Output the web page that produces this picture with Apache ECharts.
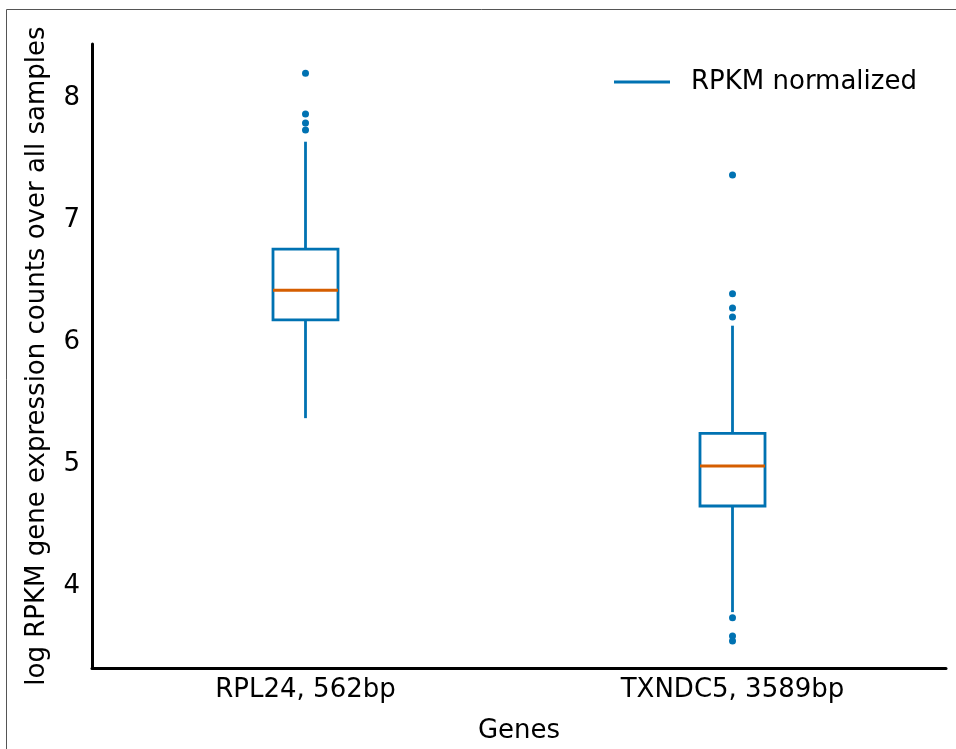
<!DOCTYPE html>
<html>
<head>
<meta charset="utf-8">
<script src="https://cdn.jsdelivr.net/npm/echarts@6/dist/echarts.min.js"></script>
<style>
  html, body { margin: 0; padding: 0; background: #fff; }
  #main { width: 956px; height: 749px; }
</style>
</head>
<body>
<div id="main"></div>
<script>
// genes on the x axis
var genes = ["RPL24, 562bp", "TXNDC5, 3589bp"];
// box stats per gene: [low whisker, Q1, median, Q3, high whisker]
var boxStats = [
  [5.38, 6.186, 6.428, 6.766, 7.646],
  [3.79, 4.66, 4.988, 5.256, 6.138]
];
// outliers: [gene index, value]
var outliers = [
  [0, 8.207], [0, 7.873], [0, 7.799], [0, 7.742],
  [1, 7.373], [1, 6.40], [1, 6.283], [1, 6.209],
  [1, 3.744], [1, 3.594], [1, 3.553]
];
var yMin = 3.332, yMax = 8.447;

var blue = "#0072B2";
var orange = "#D55E00";
var font = "DejaVu Sans";

var myChart = echarts.init(document.getElementById("main"));

// box data for the custom series
var boxData = boxStats.map(function (s, i) {
  return [i].concat(s);
});

myChart.setOption({
  animation: false,
  backgroundColor: "#fff",
  grid: { left: 92, right: 10, top: 44, bottom: 81 },
  legend: {
    left: 609,
    top: 64,
    itemWidth: 56,
    itemHeight: 3,
    data: [{ name: "RPKM normalized", icon: "rect" }],
    textStyle: { fontFamily: font, fontSize: 26, color: "#000", padding: [0, 0, 0, 16] }
  },
  xAxis: {
    type: "category",
    data: genes,
    name: "Genes",
    nameLocation: "middle",
    nameGap: 50,
    nameTextStyle: { fontFamily: font, fontSize: 26, color: "#000" },
    axisLine: { lineStyle: { color: "#000", width: 3 } },
    axisTick: { show: false },
    axisLabel: { fontFamily: font, fontSize: 26, color: "#000", margin: 9 }
  },
  yAxis: {
    type: "value",
    min: yMin,
    max: yMax,
    splitNumber: 5,
    name: "log RPKM gene expression counts over all samples",
    nameLocation: "middle",
    nameGap: 42,
    nameTextStyle: { fontFamily: font, fontSize: 26, color: "#000" },
    axisLine: { show: true, lineStyle: { color: "#000", width: 3 } },
    axisTick: { show: false },
    splitLine: { show: false },
    axisLabel: {
      fontFamily: font, fontSize: 26, color: "#000", margin: 12,
      showMinLabel: false, showMaxLabel: false,
      padding: [4, 0, 0, 0],
      formatter: function (v) {
        return Math.abs(v - Math.round(v)) < 1e-6 ? String(Math.round(v)) : "";
      }
    }
  },
  graphic: [{
    type: "rect",
    shape: { x: 6.5, y: 9.5, width: 1000, height: 1000 },
    style: { fill: null, stroke: "#555", lineWidth: 1 },
    silent: true
  }],
  series: [
    {
      name: "RPKM normalized",
      type: "custom",
      itemStyle: { color: blue },
      data: boxData,
      encode: { x: 0, y: [1, 2, 3, 4, 5] },
      renderItem: function (params, api) {
        var i = api.value(0);
        var low = api.coord([i, api.value(1)]);
        var q1 = api.coord([i, api.value(2)]);
        var med = api.coord([i, api.value(3)]);
        var q3 = api.coord([i, api.value(4)]);
        var high = api.coord([i, api.value(5)]);
        var w = 65;
        var x = low[0];
        var lineStyle = { stroke: blue, lineWidth: 2.8, fill: null };
        return {
          type: "group",
          children: [
            { type: "line", shape: { x1: x, y1: low[1], x2: x, y2: q1[1] }, style: lineStyle },
            { type: "line", shape: { x1: x, y1: q3[1], x2: x, y2: high[1] }, style: lineStyle },
            { type: "rect", shape: { x: x - w / 2, y: q3[1], width: w, height: q1[1] - q3[1] }, style: lineStyle },
            { type: "line", shape: { x1: x - w / 2, y1: med[1], x2: x + w / 2, y2: med[1] },
              style: { stroke: orange, lineWidth: 3 } }
          ]
        };
      }
    },
    {
      name: "outliers",
      type: "scatter",
      data: outliers,
      symbolSize: 7,
      itemStyle: { color: blue, opacity: 1 }
    }
  ]
});
</script>
</body>
</html>
